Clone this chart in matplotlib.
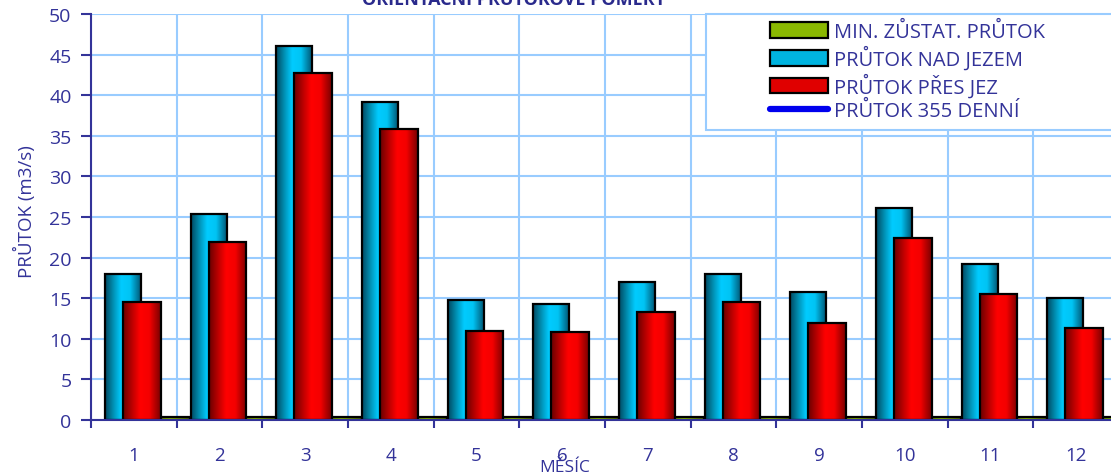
import matplotlib.pyplot as plt
import numpy as np
from matplotlib.colors import LinearSegmentedColormap
from matplotlib.patches import Rectangle
from matplotlib.lines import Line2D

plt.rcParams['font.family'] = ['Open Sans', 'DejaVu Sans']

months = [1, 2, 3, 4, 5, 6, 7, 8, 9, 10, 11, 12]
nad_jezem = [18.0, 25.4, 46.1, 39.2, 14.8, 14.3, 17.0, 18.0, 15.8, 26.1, 19.2, 15.0]
pres_jez = [14.5, 21.9, 42.7, 35.8, 11.0, 10.8, 13.3, 14.5, 12.0, 22.4, 15.5, 11.3]
min_zustat = [0.35] * 12

TXT = '#333399'
GRID = '#99ccff'

cyan_cmap = LinearSegmentedColormap.from_list(
    'cy', [(0, '#004a63'), (0.2, '#0088aa'), (0.45, '#00ccff'), (0.7, '#00c4f4'), (1, '#005a78')])
red_cmap = LinearSegmentedColormap.from_list(
    'rd', [(0, '#6a0000'), (0.2, '#b00000'), (0.45, '#ff0000'), (0.7, '#f40000'), (1, '#7a0000')])
green_cmap = LinearSegmentedColormap.from_list(
    'gr', [(0, '#4a6600'), (0.45, '#99cc00'), (1, '#4a6600')])


def gradient_bars(ax, lefts, heights, width, cmap, z):
    grad = np.linspace(0, 1, 64).reshape(1, -1)
    for x0, h in zip(lefts, heights):
        rect = Rectangle((x0, 0), width, h, facecolor='none', edgecolor='black',
                         linewidth=1.6, zorder=z + 0.5)
        ax.add_patch(rect)
        im = ax.imshow(grad, cmap=cmap, extent=(x0, x0 + width, 0, h),
                       aspect='auto', zorder=z, interpolation='bicubic')
        im.set_clip_path(rect)


fig = plt.figure(figsize=(11.11, 4.77), dpi=100)
ax = fig.add_axes([91 / 1111, 1 - 421 / 477, 1028 / 1111, 406 / 477])

starts = np.arange(len(months))
gradient_bars(ax, starts + 0.72, min_zustat, 0.44, green_cmap, 2)
gradient_bars(ax, starts + 0.165, nad_jezem, 0.42, cyan_cmap, 3)
gradient_bars(ax, starts + 0.375, pres_jez, 0.44, red_cmap, 4)

ax.set_xlim(0, 12)
ax.set_ylim(0, 50)
ax.set_yticks(range(0, 51, 5))
ax.set_xticks(range(0, 13))
ax.set_xticklabels([])
ax.set_xticks(starts + 0.5, [str(m) for m in months], minor=True)
ax.tick_params(axis='x', which='minor', length=0, pad=19, labelsize=13.5, labelcolor=TXT)
ax.tick_params(axis='x', which='major', length=6, width=1.5, color=TXT, direction='out')
ax.tick_params(axis='y', length=7, width=1.5, color=TXT, labelsize=14, labelcolor=TXT, pad=7)
ax.grid(True, which='major', color=GRID, linewidth=1.5, zorder=0)
ax.set_axisbelow(True)
for s in ['top', 'right']:
    ax.spines[s].set_visible(False)
for s in ['left', 'bottom']:
    ax.spines[s].set_color(TXT)
    ax.spines[s].set_linewidth(1.5)
    ax.spines[s].set_zorder(6)

fig.text(25 / 1111, 1 - 212 / 477, 'PRŮTOK (m3/s)', rotation=90, ha='center', va='center',
         color=TXT, fontsize=13.5)
fig.text(565 / 1111, 1 - 468 / 477, 'MĚSÍC', ha='center', va='center', color=TXT, fontsize=12.5)
fig.text(514 / 1111, 1 - 5 / 477, 'ORIENTAČNÍ PRŮTOKOVÉ POMĚRY', ha='center', va='baseline',
         color='#2a2a8c', fontsize=13, fontweight='bold')

# legend frame spans past the right edge like in the source chart
fig.patches.append(Rectangle((706 / 1111, 1 - 131 / 477), 420 / 1111, 116 / 477,
                             transform=fig.transFigure, facecolor='white', edgecolor=GRID,
                             linewidth=1.5, zorder=9))

handles = [
    Rectangle((0, 0), 1, 1, facecolor='#8ab800', edgecolor='black', linewidth=1.6),
    Rectangle((0, 0), 1, 1, facecolor='#00b4e0', edgecolor='black', linewidth=1.6),
    Rectangle((0, 0), 1, 1, facecolor='#e00000', edgecolor='black', linewidth=1.6),
    Line2D([0], [0], color='#0000ee', linewidth=4.5, solid_capstyle='round'),
]
labels = ['MIN. ZŮSTAT. PRŮTOK', 'PRŮTOK NAD JEZEM', 'PRŮTOK PŘES JEZ', 'PRŮTOK 355 DENNÍ']
leg = fig.legend(handles, labels, loc='upper left', bbox_to_anchor=(770 / 1111, 1 - 23 / 477),
                 bbox_transform=fig.transFigure, frameon=False,
                 fontsize=14.5, handlelength=2.9, handleheight=0.8, handletextpad=0.3,
                 labelspacing=0.17, borderpad=0, borderaxespad=0)
for t in leg.get_texts():
    t.set_color(TXT)
leg.set_zorder(10)

fig.savefig('out.png', dpi=100)
